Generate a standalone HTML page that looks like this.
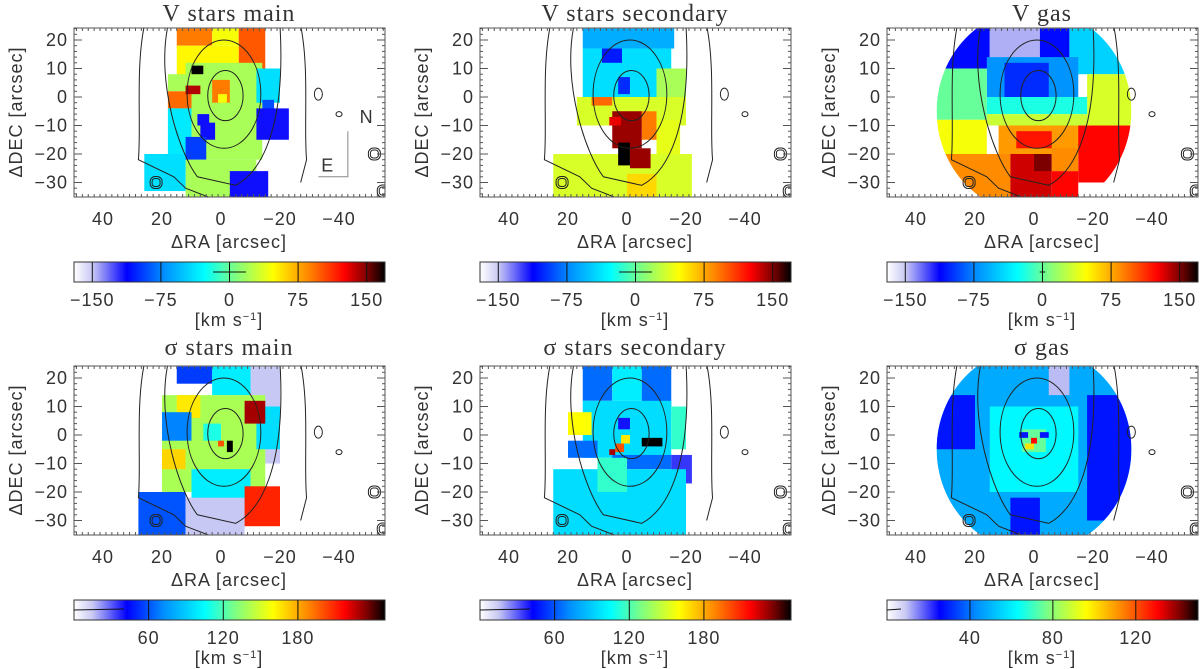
<!DOCTYPE html>
<html><head><meta charset="utf-8"><style>
body{margin:0;background:#fff;}
svg{display:block;font-family:"Liberation Sans",sans-serif;}
.ttl{font-family:"Liberation Serif",serif;font-size:24px;fill:#333;letter-spacing:1px}
.tk{font-size:18px;fill:#333;letter-spacing:1px}
</style></head><body>
<svg id="fig" width="1200" height="669" viewBox="0 0 1200 669" xmlns="http://www.w3.org/2000/svg">
<defs>
<linearGradient id="cmap" x1="0" x2="1" y1="0" y2="0">
<stop offset="0" stop-color="#ffffff"/><stop offset="0.06" stop-color="#c8c8f4"/><stop offset="0.17" stop-color="#0000ff"/>
<stop offset="0.29" stop-color="#0090ff"/><stop offset="0.42" stop-color="#00ffff"/><stop offset="0.52" stop-color="#80ff80"/>
<stop offset="0.64" stop-color="#ffff00"/><stop offset="0.76" stop-color="#ff8000"/><stop offset="0.87" stop-color="#ff0000"/>
<stop offset="0.94" stop-color="#800000"/><stop offset="1" stop-color="#000000"/>
</linearGradient>
</defs>
</svg>
<script>
// ---- data: cells [RA left, RA right, DEC top, DEC bottom, value] ----
const titles = ["V stars main","V stars secondary","V gas","\u03c3 stars main","\u03c3 stars secondary","\u03c3 gas"];
const ranges = [[-170,170],[-170,170],[-170,170],[0,250],[0,250],[0,150]];
const cbTicks = [[-150,-75,0,75,150],[-150,-75,0,75,150],[-150,-75,0,75,150],[60,120,180],[60,120,180],[40,80,120]];
const xTicks = [40,20,0,-20,-40];
const yTicks = [20,10,0,-10,-20,-30];
const cellsVmain = [
 [15,3,24,18,90],[3,-6,24,18,45],[-6,-15,24,8,100],[15,-6,18,6,50],[18,12,8,2,20],[12,-14,12,-22,20],
 [18,10,2,-4,95],[18,10,-4,-20,-35],[-12,-20,10,-2,-40],[-14,-18,-1,-5,-90],[-12,-23,-4,-15,-115],
 [7,2,-9,-15,-115],[12,5,-14,-22,-95],[12,-12,-22,-35,20],[26,12,-20,-33,-40],[-3,-16,-26,-35,-115],
 [10,6,11,8,170],[12,7,4,1,140],[3,-3,6,-2,90],[1,-2,1,-2,45],[8,4,-6,-10,-115]];
const cellsVsec = [
 [15,-16,24,17,-60],[15,-15,17,0,-40],[8.5,1.7,17,12,-105],[3,-1,7,1,-100],[-10,-20,10,-3,20],
 [17,-20,0,-10,35],[12,5,0,-3,95],[-5,-10,-5,-15,90],[5,-5,-5,-18,145],[6,2,-7,-10,130],
 [-10,-18,-8,-20,40],[25,-22,-20,-35,35],[3,-1,-16,-24,170],[-1,-8,-18,-25,145],[0,-10,-27,-35,60]];
const cellsVgas = [
 [33,15,24,10,-110],[15,-2,24,14,-145],[8,2,14,4,-160],[-2,-12,24,12,-110],[-12,-33,24,8,-45],
 [16,-15,14,0,-70],[10,-5,12,0,-100],[33,16,10,-8,0],[-18,-33,8,-10,35],[16,-18,0,-6,-20],
 [16,-18,-6,-10,30],[33,16,-8,-20,45],[12,-18,-10,-20,80],[6,-6,-12,-18,120],[-15,-33,-10,-30,125],
 [33,8,-20,-35,85],[8,-6,-20,-35,135],[0,-6,-20,-26,150],[-6,-15,-26,-35,125],[-6,-15,-18,-26,85]];
const cellsSmain = [
 [15,3,24,18,55],[3,-10,24,14,100],[-10,-20,24,-10,15],[20,-15,14,-20,140],[15,7,14,6,165],
 [20,10,8,-2,70],[-12,-20,10,-5,95],[-8,-15,12,4,230],[20,12,-5,-12,170],[6,0,4,-2,110],
 [10,-10,-12,-25,100],[28,12,-20,-35,60],[12,-8,-22,-35,15],[-8,-20,-18,-32,210],[-2,-4,-2,-6,250],[1,-1,-2,-4,200]];
const cellsSsec = [
 [15,5,24,12,65],[5,-5,24,12,100],[-5,-15,24,10,65],[15,-15,12,-8,95],[-15,-20,10,-5,115],
 [20,12,8,0,160],[20,10,-2,-8,65],[3,-1,6,2,40],[-5,-12,-1,-4,250],[5,-15,-7,-12,65],
 [-15,-22,-7,-17,35],[25,-20,-12,-35,95],[10,0,-8,-20,115],[2,-1,0,-3,165],[4,1,-3,-6,200],[6,4,-5,-7,230]];
const cellsSgas = [
 [33,-33,24,-35,48],[33,20,14,-5,28],[-18,-33,14,-30,28],[8,-2,-22,-35,28],[15,-15,10,-20,62],
 [-5,-12,24,14,10],[4,-4,2,-6,75],[1,-1,-1,-3,130],[3,0,-3,-5,100],[5,2,1,-1,28],[-2,-5,1,-1,28]];
const allCells = [cellsVmain,cellsVsec,cellsVgas,cellsSmain,cellsSsec,cellsSgas];

const stops=[[0,[255,255,255]],[0.06,[200,200,244]],[0.17,[0,0,255]],[0.29,[0,144,255]],[0.42,[0,255,255]],[0.52,[128,255,128]],[0.64,[255,255,0]],[0.76,[255,128,0]],[0.87,[255,0,0]],[0.94,[128,0,0]],[1,[0,0,0]]];
function cmap(t){t=Math.max(0,Math.min(1,t));for(let i=1;i<stops.length;i++){if(t<=stops[i][0]){const a=stops[i-1],b=stops[i];const f=(t-a[0])/(b[0]-a[0]);return 'rgb('+a[1].map((c,k)=>Math.round(c+(b[1][k]-c)*f)).join(',')+')';}}return '#000';}
const NS="http://www.w3.org/2000/svg";const svg=document.getElementById('fig');
function mk(tag,at,parent){const e=document.createElementNS(NS,tag);for(const k in at)e.setAttribute(k,at[k]);(parent||svg).appendChild(e);return e;}
const oxs=[0,406,813], oys=[0,338];
for(let p=0;p<6;p++){
 const ox=oxs[p%3], oy=oys[Math.floor(p/3)];
 const X=ra=>ox+221-2.95*ra, Y=d=>oy+97-2.85*d;
 const g=mk('g',{});
 
 
 const cp=mk('clipPath',{id:'c'+p},g);
 if(p%3==2) mk('ellipse',{cx:X(0),cy:Y(-5),rx:33*2.95,ry:36*2.85},cp);
 else mk('rect',{x:ox+74,y:oy+28,width:311,height:169},cp);
 const cg=mk('g',{'clip-path':'url(#c'+p+')'},g);
 const cg2=mk('g',{'clip-path':'url(#f'+p+')'},cg);
 const fp=mk('clipPath',{id:'f'+p},g);mk('rect',{x:ox+74,y:oy+28,width:311,height:169},fp);
 const [lo,hi]=ranges[p];
 allCells[p].forEach(c=>{
  const r=mk('rect',{x:X(c[0]),y:Y(c[2]),width:X(c[1])-X(c[0]),height:Y(c[3])-Y(c[2]),fill:cmap((c[4]-lo)/(hi-lo))},cg2);
  
  
 });
 // contours
 const cont=mk('g',{fill:'none',stroke:'#222','stroke-width':1,'clip-path':'url(#f'+p+')'},g);
 
 
 mk('ellipse',{cx:X(-1.5),cy:Y(0.5),rx:6*2.95,ry:8.8*2.85},cont);
 mk('ellipse',{cx:X(-1),cy:Y(1),rx:12.5*2.95,ry:19*2.85},cont);
 mk('path',{d:`M${X(18)},${Y(25)} C${X(22)},${Y(5)} ${X(14)},${Y(-20)} ${X(8)},${Y(-28)} L${X(-5)},${Y(-31)} C${X(-14)},${Y(-26)} ${X(-22)},${Y(-10)} ${X(-20)},${Y(25)}`},cont);
 mk('path',{d:`M${X(26)},${Y(25)} C${X(29)},${Y(10)} ${X(27)},${Y(-10)} ${X(28)},${Y(-22)} L${X(16)},${Y(-28)} L${X(12)},${Y(-32)} L${X(2)},${Y(-36)} M${X(-27)},${Y(25)} C${X(-30)},${Y(10)} ${X(-28)},${Y(-10)} ${X(-29)},${Y(-22)} L${X(-27)},${Y(-30)}`},cont);
 mk('ellipse',{cx:X(-33),cy:Y(1),rx:4,ry:6},cont);
 mk('ellipse',{cx:X(-40),cy:Y(-6),rx:3,ry:2.5},cont);
 [[22,-30],[-52,-20],[-55,-33]].forEach(q=>{mk('rect',{x:X(q[0])-6,y:Y(q[1])-6,width:12,height:12,rx:5},cont);mk('rect',{x:X(q[0])-4,y:Y(q[1])-4,width:8,height:8,rx:3},cont);});
 // frame and ticks
 const fr=mk('rect',{x:ox+74,y:oy+28,width:311,height:169,fill:'none',stroke:'#555','stroke-width':1},g);
 
 
 for(let v=-55;v<=50;v+=2){const L=(v%10==0)?8:3;const x=X(v);mk('line',{x1:x,x2:x,y1:oy+197,y2:oy+197-L,stroke:'#555'},g);mk('line',{x1:x,x2:x,y1:oy+28,y2:oy+28+L,stroke:'#555'},g);}
 for(let v=-34;v<=24;v+=2){const L=(v%10==0)?8:3;const y=Y(v);mk('line',{x1:ox+74,x2:ox+74+L,y1:y,y2:y,stroke:'#555'},g);mk('line',{x1:ox+385,x2:ox+385-L,y1:y,y2:y,stroke:'#555'},g);}
 xTicks.forEach(v=>{const t=mk('text',{x:X(v),y:oy+225,'text-anchor':'middle',class:'tk'},g);t.textContent=(v<0?'\u2212'+(-v):v);});
 yTicks.forEach(v=>{const t=mk('text',{x:ox+68,y:Y(v)+6,'text-anchor':'end',class:'tk'},g);t.textContent=(v<0?'\u2212'+(-v):v);});
 const xl=mk('text',{x:ox+229,y:oy+248,'text-anchor':'middle',class:'tk'},g);xl.textContent='\u0394RA [arcsec]';
 
 const yl=mk('text',{x:0,y:0,'text-anchor':'middle',class:'tk',transform:`translate(${ox+22},${oy+112}) rotate(-90)`},g);yl.textContent='\u0394DEC [arcsec]';
 
 const tt=mk('text',{x:ox+229,y:oy+(p<3?21:17),'text-anchor':'middle',class:'ttl'},g);tt.textContent=titles[p];
 
 if(p==0){const ne=mk('g',{stroke:'#888',fill:'none'},g);mk('path',{d:`M${X(-43)},${Y(-12)} L${X(-43)},${Y(-28)} L${X(-33)},${Y(-28)}`},ne);
  const n=mk('text',{x:X(-47),y:Y(-7)+6,class:'tk'},g);n.textContent='N';const e=mk('text',{x:X(-34),y:Y(-24)+6,class:'tk'},g);e.textContent='E';
  }
 // colorbar
 const cy=oy+262, cx0=ox+74, cw=311;
 const cb=mk('rect',{x:cx0,y:cy,width:cw,height:20,fill:'url(#cmap)',stroke:'#333'},g);
 
 const C=v=>cx0+cw*(v-lo)/(hi-lo);
 cbTicks[p].forEach(v=>{mk('line',{x1:C(v),x2:C(v),y1:cy,y2:cy+20,stroke:'#111'},g);
  const t=mk('text',{x:C(v),y:cy+44,'text-anchor':'middle',class:'tk'},g);t.textContent=(v<0?'\u2212'+(-v):v);
  });
 if(p<3){const w=p==0?18:p==1?18:3;mk('line',{x1:C(-w),x2:C(w),y1:cy+10,y2:cy+10,stroke:'#111'},g);}
 else {mk('line',{x1:cx0,x2:cx0+(p==5?14:50),y1:cy+10,y2:cy+9,stroke:'#111'},g);}
 const u=mk('text',{x:ox+229,y:cy+64,'text-anchor':'middle',class:'tk'},g);
 u.innerHTML='[km s<tspan dy="-6" font-size="11">\u22121</tspan><tspan dy="6">]</tspan>';
 
}
</script>
</body></html>
